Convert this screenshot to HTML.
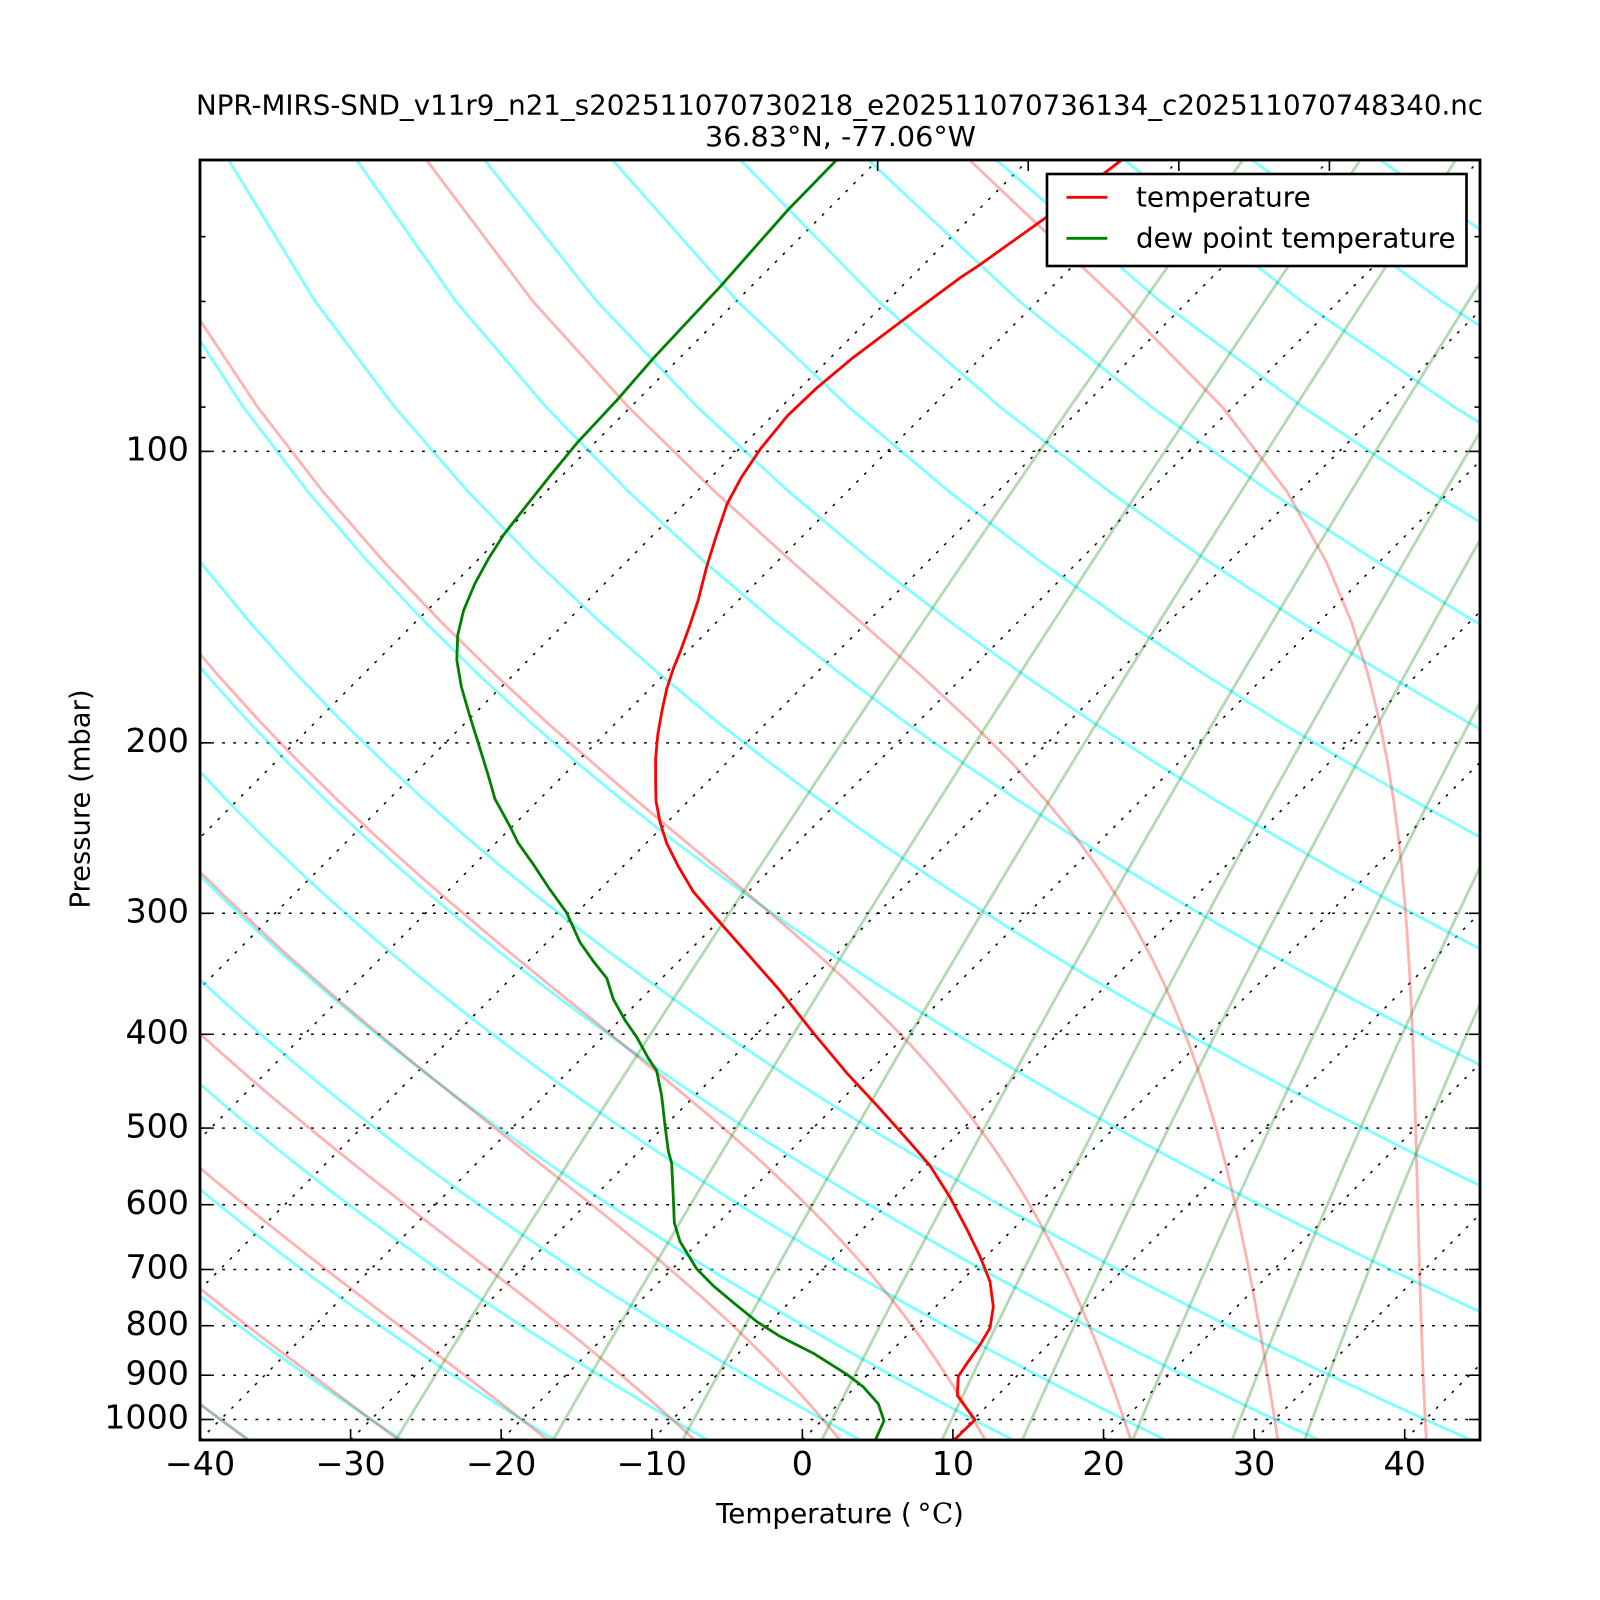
<!DOCTYPE html>
<html>
<head>
<meta charset="utf-8">
<style>
html,body{margin:0;padding:0;background:#fff;}
svg{display:block;}
</style>
</head>
<body>
<svg id="c" xmlns="http://www.w3.org/2000/svg" width="1600" height="1600" viewBox="0 0 1600 1600" font-family="'DejaVu Sans','Liberation Sans',sans-serif">
<defs>
  <clipPath id="ax"><rect x="200" y="160" width="1280" height="1280"/></clipPath>
</defs>
<rect x="0" y="0" width="1600" height="1600" fill="#fff"/>

<g clip-path="url(#ax)">
  <g stroke="#000" stroke-width="1.5" stroke-dasharray="2.8 8.3" fill="none">
    <line x1="200" y1="451.4" x2="1480" y2="451.4"/>
    <line x1="200" y1="742.85" x2="1480" y2="742.85"/>
    <line x1="200" y1="913.3" x2="1480" y2="913.3"/>
    <line x1="200" y1="1034.3" x2="1480" y2="1034.3"/>
    <line x1="200" y1="1128.07" x2="1480" y2="1128.07"/>
    <line x1="200" y1="1204.7" x2="1480" y2="1204.7"/>
    <line x1="200" y1="1269.5" x2="1480" y2="1269.5"/>
    <line x1="200" y1="1325.7" x2="1480" y2="1325.7"/>
    <line x1="200" y1="1375.2" x2="1480" y2="1375.2"/>
    <line x1="200" y1="1419.5" x2="1480" y2="1419.5"/>
    <line x1="-402.35" y1="1440" x2="877.65" y2="160"/>
    <line x1="-251.76" y1="1440" x2="1028.24" y2="160"/>
    <line x1="-101.18" y1="1440" x2="1178.82" y2="160"/>
    <line x1="49.41" y1="1440" x2="1329.41" y2="160"/>
    <line x1="200" y1="1440" x2="1480" y2="160"/>
    <line x1="350.59" y1="1440" x2="1630.59" y2="160"/>
    <line x1="501.18" y1="1440" x2="1781.18" y2="160"/>
    <line x1="651.76" y1="1440" x2="1931.76" y2="160"/>
    <line x1="802.35" y1="1440" x2="2082.35" y2="160"/>
    <line x1="952.94" y1="1440" x2="2232.94" y2="160"/>
    <line x1="1103.53" y1="1440" x2="2383.53" y2="160"/>
    <line x1="1254.12" y1="1440" x2="2534.12" y2="160"/>
    <line x1="1404.71" y1="1440" x2="2684.71" y2="160"/>
  </g>

  <g id="dry" stroke="#00ffff" stroke-opacity="0.5" stroke-width="2.8" fill="none"></g>
  <g id="moist" stroke="#ff0000" stroke-opacity="0.3" stroke-width="2.8" fill="none"></g>
  <g id="mix" stroke="#008000" stroke-opacity="0.3" stroke-width="2.8" fill="none"></g>

  <polyline fill="none" stroke="#ff0000" stroke-width="2.8" stroke-linejoin="round" points="1126,156 1121.6,160 1046,217.5 978.8,265.5 959.5,278.2 901.4,321.3 852.3,358.2 816.5,388.2 787.5,415.7 760.7,448.5 741.4,477.3 727.1,503.9 716,536.8 707,565.5 698.1,600.4 689.2,627.1 680.2,651.7 673.5,668.1 666.8,688.7 662.3,709.2 657.9,733.8 655.6,758.4 655.6,779 656,801 660,822.1 666.7,843.2 678.3,866.4 693.3,891.7 713.3,914.9 746.7,952.8 780,990.7 813.3,1032.9 846.7,1072.9 880,1108.8 910,1142.5 930,1165.7 950,1197.3 966.7,1228.9 980,1256.3 990,1281.6 993.3,1306.8 990,1327.9 980,1344.8 966.7,1363.7 958.3,1376.4 957.3,1395.4 963.3,1403.8 975,1419.8 953.3,1440.9 950,1444"/>

  <polyline fill="none" stroke="#008000" stroke-width="2.8" stroke-linejoin="round" points="840,156 836.6,159.9 787.5,210.4 720.4,286.4 653.4,358.2 617.7,399.3 577.5,442.4 550.6,475.2 526.1,506 503.7,534.7 488.1,559.3 474.7,584 463.5,610.7 457.7,635.3 456.8,660 461.3,686.6 470.2,717.4 479.2,746.1 488.1,774.9 495,799 510,826.4 518.3,843.2 533.3,864.3 550,889.6 566.7,912.8 580,942.3 593.3,961.2 606.7,978.1 613.3,999.2 625,1020.2 636.7,1037.1 648.3,1058.2 656.7,1070.8 661.7,1096.1 665,1125.6 668.3,1150.9 671.7,1163.5 673.3,1197.3 674.3,1222.6 680,1241.5 696.7,1268.9 713.3,1285.8 733.3,1302.6 756.7,1321.6 780,1336.4 813.3,1353.2 846.7,1374.3 863.3,1386.9 878.3,1403.8 884,1420.7 875,1440.9 873,1445"/>
</g>

<rect x="200" y="160" width="1280" height="1280" fill="none" stroke="#000" stroke-width="2.8"/>

<g stroke="#000" stroke-width="1.6" fill="none">
  <line x1="350.59" y1="1440" x2="350.59" y2="1429"/>
  <line x1="501.18" y1="1440" x2="501.18" y2="1429"/>
  <line x1="651.76" y1="1440" x2="651.76" y2="1429"/>
  <line x1="802.35" y1="1440" x2="802.35" y2="1429"/>
  <line x1="952.94" y1="1440" x2="952.94" y2="1429"/>
  <line x1="1103.53" y1="1440" x2="1103.53" y2="1429"/>
  <line x1="1254.12" y1="1440" x2="1254.12" y2="1429"/>
  <line x1="1404.71" y1="1440" x2="1404.71" y2="1429"/>
  <line x1="877.65" y1="160" x2="877.65" y2="171"/>
  <line x1="1028.24" y1="160" x2="1028.24" y2="171"/>
  <line x1="1178.82" y1="160" x2="1178.82" y2="171"/>
  <line x1="1329.41" y1="160" x2="1329.41" y2="171"/>
  <line x1="200" y1="451.4" x2="211" y2="451.4"/>
  <line x1="200" y1="742.85" x2="211" y2="742.85"/>
  <line x1="200" y1="913.3" x2="211" y2="913.3"/>
  <line x1="200" y1="1034.3" x2="211" y2="1034.3"/>
  <line x1="200" y1="1128.07" x2="211" y2="1128.07"/>
  <line x1="200" y1="1204.7" x2="211" y2="1204.7"/>
  <line x1="200" y1="1269.5" x2="211" y2="1269.5"/>
  <line x1="200" y1="1325.7" x2="211" y2="1325.7"/>
  <line x1="200" y1="1375.2" x2="211" y2="1375.2"/>
  <line x1="200" y1="1419.5" x2="211" y2="1419.5"/>
  <line x1="1480" y1="451.4" x2="1469" y2="451.4"/>
  <line x1="1480" y1="742.85" x2="1469" y2="742.85"/>
  <line x1="1480" y1="913.3" x2="1469" y2="913.3"/>
  <line x1="1480" y1="1034.3" x2="1469" y2="1034.3"/>
  <line x1="1480" y1="1128.07" x2="1469" y2="1128.07"/>
  <line x1="1480" y1="1204.7" x2="1469" y2="1204.7"/>
  <line x1="1480" y1="1269.5" x2="1469" y2="1269.5"/>
  <line x1="1480" y1="1325.7" x2="1469" y2="1325.7"/>
  <line x1="1480" y1="1375.2" x2="1469" y2="1375.2"/>
  <line x1="1480" y1="1419.5" x2="1469" y2="1419.5"/>
  <line x1="200" y1="236.65" x2="205.6" y2="236.65"/>
  <line x1="200" y1="301.46" x2="205.6" y2="301.46"/>
  <line x1="200" y1="357.6" x2="205.6" y2="357.6"/>
  <line x1="200" y1="407.1" x2="205.6" y2="407.1"/>
  <line x1="1480" y1="236.65" x2="1474.4" y2="236.65"/>
  <line x1="1480" y1="301.46" x2="1474.4" y2="301.46"/>
  <line x1="1480" y1="357.6" x2="1474.4" y2="357.6"/>
  <line x1="1480" y1="407.1" x2="1474.4" y2="407.1"/>
</g>

<g font-size="33.3" fill="#000" text-anchor="middle">
  <text x="200" y="1475">−40</text>
  <text x="350.59" y="1475">−30</text>
  <text x="501.18" y="1475">−20</text>
  <text x="651.76" y="1475">−10</text>
  <text x="802.35" y="1475">0</text>
  <text x="952.94" y="1475">10</text>
  <text x="1103.53" y="1475">20</text>
  <text x="1254.12" y="1475">30</text>
  <text x="1404.71" y="1475">40</text>
</g>
<g font-size="33.3" fill="#000" text-anchor="end">
  <text x="189" y="460.6">100</text>
  <text x="189" y="752.05">200</text>
  <text x="189" y="922.5">300</text>
  <text x="189" y="1043.5">400</text>
  <text x="189" y="1137.27">500</text>
  <text x="189" y="1213.9">600</text>
  <text x="189" y="1278.7">700</text>
  <text x="189" y="1334.9">800</text>
  <text x="189" y="1384.4">900</text>
  <text x="189" y="1428.7">1000</text>
</g>

<text x="716" y="1523" font-size="27.8">Temperature (</text>
<text x="917.5" y="1523" font-size="27.8">°</text>
<text x="932" y="1523" font-size="27.8" font-family="'DejaVu Serif','Liberation Serif',serif">C</text>
<text x="953" y="1523" font-size="27.8">)</text>
<text transform="translate(89.5,799) rotate(-90)" font-size="27.8" text-anchor="middle" textLength="219" lengthAdjust="spacingAndGlyphs">Pressure (mbar)</text>

<text x="839.5" y="114.3" font-size="27.8" text-anchor="middle" textLength="1287" lengthAdjust="spacingAndGlyphs">NPR-MIRS-SND_v11r9_n21_s202511070730218_e202511070736134_c202511070748340.nc</text>
<text x="840.5" y="146" font-size="27.8" text-anchor="middle" textLength="271" lengthAdjust="spacingAndGlyphs">36.83°N, -77.06°W</text>

<rect x="1047" y="174" width="419.5" height="92" fill="#fff" stroke="#000" stroke-width="2.6"/>
<line x1="1066.5" y1="197.3" x2="1107.3" y2="197.3" stroke="#ff0000" stroke-width="2.8"/>
<line x1="1066.5" y1="238.3" x2="1107.3" y2="238.3" stroke="#008000" stroke-width="2.8"/>
<text x="1136" y="206.7" font-size="27.8">temperature</text>
<text x="1136" y="247.3" font-size="27.8" textLength="319.5" lengthAdjust="spacingAndGlyphs">dew point temperature</text>
</svg>

<script>
(function(){
  var NS="http://www.w3.org/2000/svg";
  var X0=200,Y0=160,Y1=1440,SX=1280/85,DEC=1280/Math.log10(21),LP0=Math.log10(50);
  function Yp(p){return Y0+(Math.log10(p)-LP0)*DEC;}
  function Xp(T,p){return X0+(T+40)*SX+(Y1-Yp(p));}
  var P=[];for(var p=1050;p>=50;p-=20)P.push(p);
  function addPath(g,pts){
    var e=document.createElementNS(NS,'path');
    var d='M'+pts.map(function(q){return q[0].toFixed(1)+' '+q[1].toFixed(1);}).join('L');
    e.setAttribute('d',d);g.appendChild(e);
  }
  var Rd=287.05,Cp=1004.6,eps=0.622,K=287.04749/1004.6662;

  var gd=document.getElementById('dry');
  var dry=[-40,-30,-20,-10,0,10,20,30,40];
  for(var t=60;t<=300;t+=20)dry.push(t);
  dry.forEach(function(t0){
    addPath(gd,P.map(function(p){return [Xp((t0+273.15)*Math.pow(p/1000,K)-273.15,p),Yp(p)];}));
  });

  function f(p,T){
    var tc=T-273.15;
    var es=6.112*Math.exp(17.67*tc/(tc+243.5));
    var ws=eps*es/(p-es);
    var Tv=T*(1+ws/eps)/(1+ws);
    var L=1000*(2500.8-2.36*tc+0.0016*tc*tc-0.00006*tc*tc*tc);
    var A=1+L*ws/(Rd*T);
    var B=1+eps*L*L*ws/(Cp*Rd*T*T);
    return (A/B)*Rd*Tv/(Cp*p);
  }
  function integ(T,p,pe,h,res){
    while((h<0&&p>pe)||(h>0&&p<pe)){
      var k1=f(p,T),k2=f(p+h/2,T+h/2*k1),k3=f(p+h/2,T+h/2*k2),k4=f(p+h,T+h*k3);
      T+=h/6*(k1+2*k2+2*k3+k4);p+=h;res[Math.round(p)]=T;
    }
  }
  var gm=document.getElementById('moist');
  for(var t0=-40;t0<=40;t0+=10){
    var res={};res[1000]=t0+273.15;
    integ(t0+273.15,1000,50,-1,res);
    integ(t0+273.15,1000,1050,1,res);
    addPath(gm,P.map(function(p){return [Xp(res[p]-273.15,p),Yp(p)];}));
  }

  var gx=document.getElementById('mix');
  [0.4,1,2,4,7,10,16,24,32].forEach(function(w){
    w=w/1000;
    addPath(gx,P.map(function(p){
      var e=w*p/(0.622+w);var L=Math.log(e/6.112);
      return [Xp(243.5*L/(17.67-L),p),Yp(p)];
    }));
  });
})();
</script>
</body>
</html>
